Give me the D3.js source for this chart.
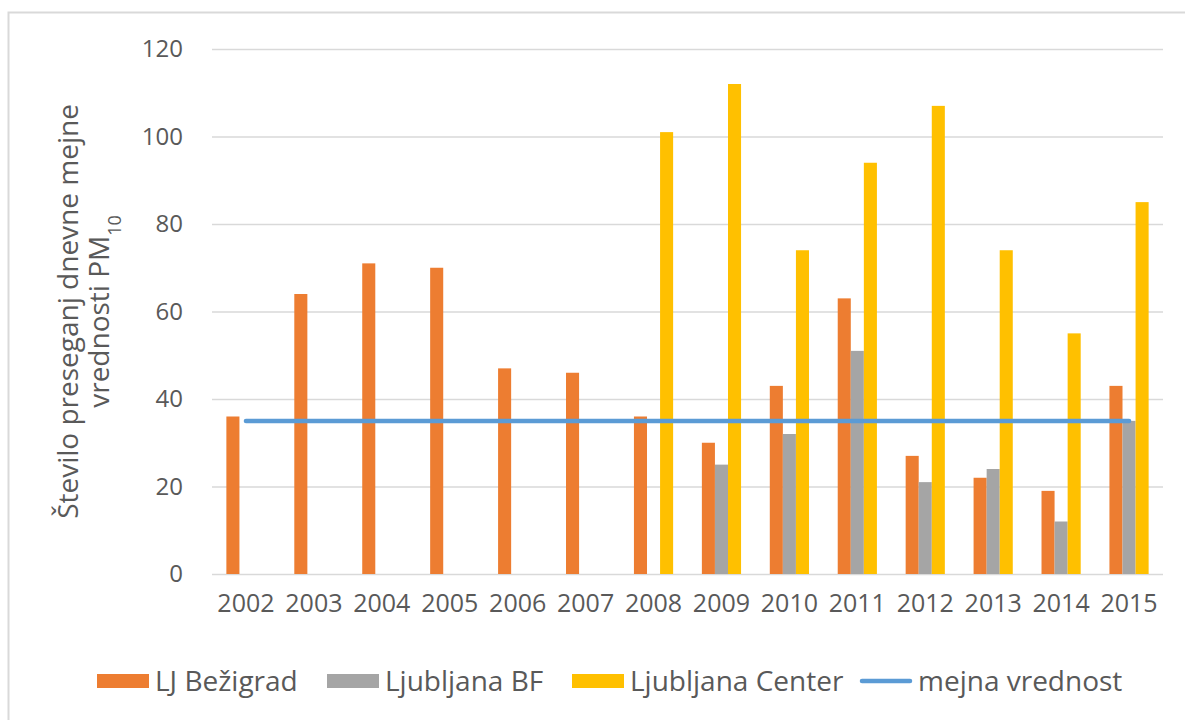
<!DOCTYPE html>
<html>
<head>
<meta charset="utf-8">
<script src="https://cdn.jsdelivr.net/npm/d3@7"></script>
<style>
  body { margin: 0; background: #fff; }
  text { font-family: "Open Sans", sans-serif; fill: #595959; }
</style>
</head>
<body>
<div id="chart"></div>
<script>
// chart data
const years = ["2002", "2003", "2004", "2005", "2006", "2007", "2008", "2009", "2010", "2011", "2012", "2013", "2014", "2015"];
const bezigrad = [36, 64, 71, 70, 47, 46, 36, 30, 43, 63, 27, 22, 19, 43];
const ljubljanaBF = [null, null, null, null, null, null, null, 25, 32, 51, 21, 24, 12, 35];
const ljubljanaCenter = [null, null, null, null, null, null, 101, 112, 74, 94, 107, 74, 55, 85];
const limitValue = [35, 35, 35, 35, 35, 35, 35, 35, 35, 35, 35, 35, 35, 35];
const seriesNames = ["LJ Bežigrad", "Ljubljana BF", "Ljubljana Center"];
const lineName = "mejna vrednost";
const yTicks = [0, 20, 40, 60, 80, 100, 120];

const colors = { "LJ Bežigrad": "#ED7D31", "Ljubljana BF": "#A5A5A5", "Ljubljana Center": "#FFC000" };
const lineColor = "#5B9BD5";

const width = 1185, height = 720;
const margin = { top: 49, right: 22, bottom: 146, left: 212 };

const svg = d3.select("#chart").append("svg")
    .attr("width", width)
    .attr("height", height);

svg.append("rect")
    .attr("width", width).attr("height", height)
    .attr("fill", "#fff");

// outer chart border (only top & left visible in the crop)
svg.append("rect")
    .attr("x", 8.5).attr("y", 12.5)
    .attr("width", width + 20).attr("height", height + 20)
    .attr("fill", "none")
    .attr("stroke", "#D9D9D9")
    .attr("stroke-width", 2);

const x = d3.scaleBand()
    .domain(years)
    .range([margin.left, width - margin.right])
    .padding(0);

const xSub = d3.scaleBand()
    .domain(seriesNames)
    .range([0, x.bandwidth()])
    .paddingInner(0)
    .paddingOuter(1.1);

const y = d3.scaleLinear()
    .domain([0, 120])
    .range([height - margin.bottom, margin.top]);

// gridlines
svg.append("g")
    .attr("transform", `translate(${margin.left},0)`)
    .call(d3.axisLeft(y).tickValues(yTicks).tickSize(-(width - margin.left - margin.right)).tickFormat(""))
    .call(g => g.select(".domain").remove())
    .call(g => g.selectAll("line").attr("stroke", "#D9D9D9").attr("stroke-width", 1.5));

// y tick labels
svg.append("g")
    .attr("transform", `translate(${margin.left - 29},0)`)
    .call(d3.axisLeft(y).tickValues(yTicks).tickSize(0).tickPadding(0))
    .call(g => g.select(".domain").remove())
    .call(g => g.selectAll("text")
        .style("font-size", "24px")
        .attr("fill", "#595959")
        .attr("font-family", "Open Sans, sans-serif"));

// x tick labels
svg.append("g")
    .attr("transform", `translate(0,${height - margin.bottom})`)
    .call(d3.axisBottom(x).tickSize(0).tickPadding(20))
    .call(g => g.select(".domain").remove())
    .call(g => g.selectAll("text")
        .style("font-size", "25px")
        .attr("fill", "#595959")
        .attr("dy", "0.71em")
        .attr("font-family", "Open Sans, sans-serif"));

// bars
const rows = years.map((yr, i) => ({
  year: yr,
  values: [
    { key: seriesNames[0], value: bezigrad[i] },
    { key: seriesNames[1], value: ljubljanaBF[i] },
    { key: seriesNames[2], value: ljubljanaCenter[i] }
  ]
}));

svg.append("g")
  .selectAll("g")
  .data(rows)
  .join("g")
    .attr("transform", d => `translate(${x(d.year)},0)`)
  .selectAll("rect")
  .data(d => d.values.filter(v => v.value != null))
  .join("rect")
    .attr("x", d => xSub(d.key))
    .attr("y", d => y(d.value))
    .attr("width", xSub.bandwidth())
    .attr("height", d => y(0) - y(d.value))
    .attr("fill", d => colors[d.key]);

// limit line
const line = d3.line()
    .x((d, i) => x(years[i]) + x.bandwidth() / 2)
    .y(d => y(d));

svg.append("path")
    .datum(limitValue)
    .attr("d", line)
    .attr("fill", "none")
    .attr("stroke", lineColor)
    .attr("stroke-width", 4.5)
    .attr("stroke-linecap", "round");

// y axis title
const title = svg.append("text")
    .attr("transform", `translate(78,${(y(0) + y(120)) / 2}) rotate(-90)`)
    .attr("text-anchor", "middle")
    .style("font-size", "28px");
title.append("tspan")
    .attr("x", 0).attr("dy", "0")
    .text("Število preseganj dnevne mejne");
title.append("tspan")
    .attr("x", 0).attr("dy", "1.12em")
    .text("vrednosti PM");
title.append("tspan")
    .attr("baseline-shift", "sub")
    .style("font-size", "18px")
    .text("10");

// legend
const legendItems = [
  { name: seriesNames[0], type: "rect", x: 97 },
  { name: seriesNames[1], type: "rect", x: 327 },
  { name: seriesNames[2], type: "rect", x: 572 },
  { name: lineName, type: "line", x: 860 }
];
const legendY = 681;
const legend = svg.append("g")
  .selectAll("g")
  .data(legendItems)
  .join("g")
    .attr("transform", d => `translate(${d.x},${legendY})`);

legend.filter(d => d.type === "rect")
  .append("rect")
    .attr("x", 0).attr("y", -7)
    .attr("width", 52).attr("height", 14)
    .attr("fill", d => colors[d.name]);

legend.filter(d => d.type === "line")
  .append("line")
    .attr("x1", 2).attr("x2", 50)
    .attr("y1", 0).attr("y2", 0)
    .attr("stroke", lineColor)
    .attr("stroke-width", 4.5)
    .attr("stroke-linecap", "round");

legend.append("text")
    .attr("x", 58)
    .attr("y", 0)
    .attr("dy", "0.35em")
    .style("font-size", "28px")
    .text(d => d.name);
</script>
</body>
</html>
